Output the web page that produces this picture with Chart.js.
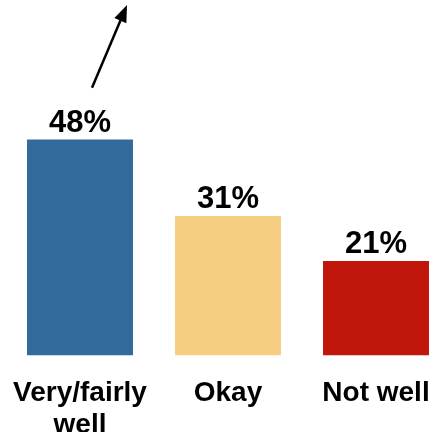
<!DOCTYPE html>
<html>
<head>
<meta charset="utf-8">
<script src="https://cdn.jsdelivr.net/npm/chart.js@4/dist/chart.umd.min.js"></script>
<style>
  html, body { margin: 0; padding: 0; background: #fff; overflow: hidden; }
  #wrap { position: absolute; left: 0; top: 0; width: 450px; height: 432px; }
</style>
</head>
<body>
<div id="wrap"><canvas id="bars"></canvas></div>
<script>
// chart values
const categories = [['Very/fairly', 'well'], 'Okay', 'Not well'];
const shares = [48, 31, 21];
const barColors = ['#336A9C', '#F5CE82', '#C0160C'];
const yMax = 78;

// arrow above first bar, in data units (value axis)
const arrowFrom = 59.5;
const arrowTo = 77.9;

// labels on top of the bars
const valueLabels = {
	id: 'valueLabels',
	afterDatasetsDraw(chart) {
		const ctx = chart.ctx;
		const meta = chart.getDatasetMeta(0);
		ctx.save();
		ctx.fillStyle = '#000';
		ctx.font = 'bold 31px "Liberation Sans", Arial, sans-serif';
		ctx.textAlign = 'center';
		ctx.textBaseline = 'alphabetic';
		meta.data.forEach((bar, i) => {
			ctx.fillText(shares[i] + '%', bar.x, bar.y - 8);
		});
		ctx.restore();
	}
};

// arrow pointing up
const upArrow = {
	id: 'upArrow',
	afterDraw(chart) {
		const ctx = chart.ctx;
		const y = chart.scales.y;
		const bar = chart.getDatasetMeta(0).data[0];
		const x1 = bar.x + 12, y1 = y.getPixelForValue(arrowFrom);
		const x2 = bar.x + 47, y2 = y.getPixelForValue(arrowTo);
		const ang = Math.atan2(y2 - y1, x2 - x1);
		const head = 17, half = 6.5;
		ctx.save();
		ctx.strokeStyle = '#000';
		ctx.fillStyle = '#000';
		ctx.lineWidth = 2.5;
		ctx.beginPath();
		ctx.moveTo(x1, y1);
		ctx.lineTo(x2 - Math.cos(ang) * head * 0.8, y2 - Math.sin(ang) * head * 0.8);
		ctx.stroke();
		const bx = x2 - Math.cos(ang) * head, by = y2 - Math.sin(ang) * head;
		ctx.beginPath();
		ctx.moveTo(x2, y2);
		ctx.lineTo(bx + Math.sin(ang) * half, by - Math.cos(ang) * half);
		ctx.lineTo(bx - Math.sin(ang) * half, by + Math.cos(ang) * half);
		ctx.closePath();
		ctx.fill();
		ctx.restore();
	}
};

new Chart(document.getElementById('bars'), {
	type: 'bar',
	data: {
		labels: categories,
		datasets: [{
			data: shares,
			backgroundColor: barColors,
			borderWidth: 0,
			categoryPercentage: 1,
			barPercentage: 0.716,
		}],
	},
	options: {
		responsive: true,
		maintainAspectRatio: false,
		animation: false,
		events: [],
		layout: { padding: { left: 6, right: 0, top: 4.5, bottom: 0 } },
		plugins: {
			legend: { display: false },
			tooltip: { enabled: false },
		},
		scales: {
			x: {
				grid: { display: false, drawTicks: false },
				border: { display: false },
				ticks: {
					color: '#000',
					padding: 21,
					maxRotation: 0,
					autoSkip: false,
					font: { family: '"Liberation Sans", Arial, sans-serif', size: 28, weight: 'bold', lineHeight: 1.17 },
				},
				afterFit(scale) {
					scale.height = 76.5;
					scale.paddingLeft = 0;
					scale.paddingRight = 0;
				},
			},
			y: {
				display: false,
				min: 0,
				max: yMax,
			},
		},
	},
	plugins: [valueLabels, upArrow],
});
</script>
</body>
</html>
